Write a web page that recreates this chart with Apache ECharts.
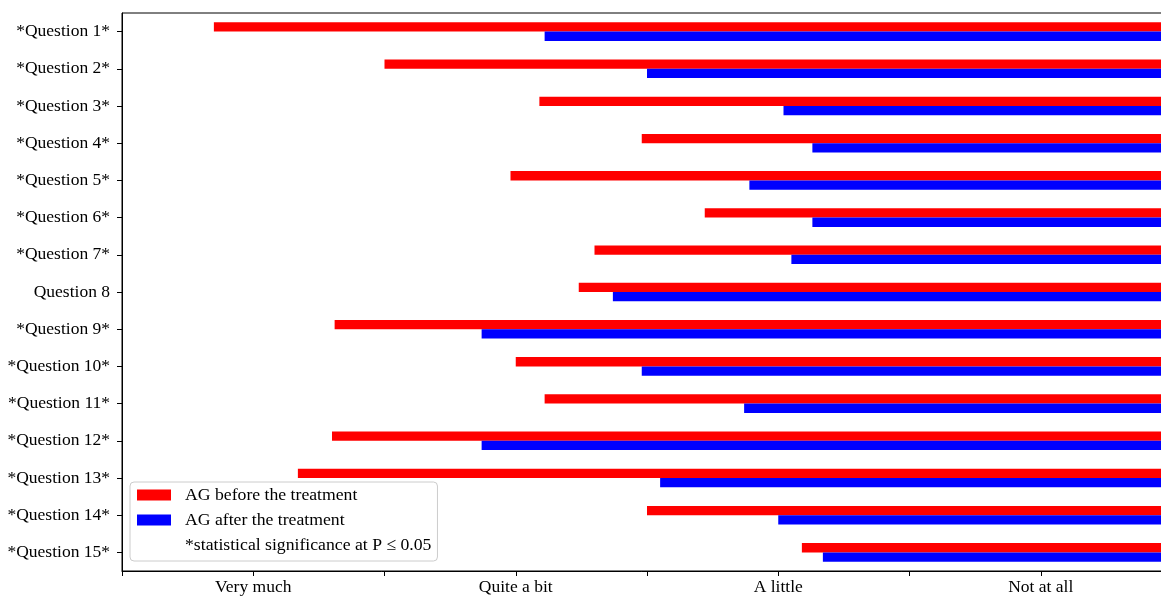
<!DOCTYPE html>
<html><head><meta charset="utf-8">
<script src="https://cdn.jsdelivr.net/npm/echarts@6/dist/echarts.min.js"></script>
<style>html,body{margin:0;padding:0;background:#fff}#c{width:1161px;height:596px}</style>
</head><body><div id="c"></div>
<script>
const categories = ['*Question 1*','*Question 2*','*Question 3*','*Question 4*','*Question 5*','*Question 6*','*Question 7*','Question 8','*Question 9*','*Question 10*','*Question 11*','*Question 12*','*Question 13*','*Question 14*','*Question 15*'];
const beforeValues = [0.85, 1.50, 2.09, 2.48, 1.98, 2.72, 2.30, 2.24, 1.31, 2.00, 2.11, 1.30, 1.17, 2.50, 3.09];
const afterValues  = [2.11, 2.50, 3.02, 3.13, 2.89, 3.13, 3.05, 2.37, 1.87, 2.48, 2.87, 1.87, 2.55, 3.00, 3.17];
const tickLabels = {1: 'Very much', 2: 'Quite a bit', 3: 'A little', 4: 'Not at all'};
const seriesNames = ['AG before the treatment', 'AG after the treatment'];
const noteText = '*statistical significance at P \u2264 0.05';
const axisMin = 0.5, axisMax = 4.5, axisStep = 0.5;

const FONT = 'Liberation Serif, Times New Roman, serif';
const fill = vals => vals.map(v => axisMax - v);
const common = {type: 'bar', barWidth: '25%', barGap: '0%', silent: true};

const chart = echarts.init(document.getElementById('c'));
chart.setOption({
  animation: false,
  backgroundColor: '#fff',
  grid: {left: 122, top: 13, width: 1050, height: 558, outerBoundsMode: 'none', containLabel: false,
         show: true, borderColor: '#000', borderWidth: 1},
  xAxis: {
    type: 'value', min: axisMin, max: axisMax, interval: axisStep,
    splitLine: {show: false},
    axisLine: {show: true, lineStyle: {color: '#000', width: 1}},
    axisTick: {show: true, length: 5, lineStyle: {color: '#000'}},
    axisLabel: {margin: 7, color: '#000', fontFamily: FONT, fontSize: 17.5,
      formatter: v => tickLabels[Math.round(v * 2) / 2] || '', showMinLabel: true, showMaxLabel: true}
  },
  yAxis: {
    type: 'category', data: categories, inverse: true,
    axisLine: {show: true, lineStyle: {color: '#000', width: 1}},
    axisTick: {show: true, alignWithLabel: true, length: 5, lineStyle: {color: '#000'}},
    axisLabel: {margin: 12, color: '#000', fontFamily: FONT, fontSize: 17.5, interval: 0}
  },
  legend: {
    orient: 'vertical', left: 130, top: 482,
    padding: [4, 6, 7, 7], itemGap: 7, itemWidth: 34, itemHeight: 11,
    backgroundColor: 'rgba(255,255,255,0.8)', borderColor: '#cccccc', borderWidth: 1, borderRadius: 4,
    selectedMode: false,
    textStyle: {fontFamily: FONT, fontSize: 17.7, color: '#000', lineHeight: 17, padding: [0, 0, 0, 9]},
    data: [
      {name: seriesNames[0], icon: 'rect'},
      {name: seriesNames[1], icon: 'rect'},
      {name: noteText, icon: 'rect', itemStyle: {color: 'rgba(0,0,0,0)', borderWidth: 0}}
    ]
  },
  series: [
    Object.assign({}, common, {name: 'baseBefore', stack: 'before', data: beforeValues, itemStyle: {color: 'rgba(0,0,0,0)'}}),
    Object.assign({}, common, {name: seriesNames[0], stack: 'before', data: fill(beforeValues), itemStyle: {color: '#ff0000'}}),
    Object.assign({}, common, {name: 'baseAfter', stack: 'after', data: afterValues, itemStyle: {color: 'rgba(0,0,0,0)'}}),
    Object.assign({}, common, {name: seriesNames[1], stack: 'after', data: fill(afterValues), itemStyle: {color: '#0000ff'}}),
    {type: 'scatter', name: noteText, data: [], itemStyle: {color: 'rgba(0,0,0,0)'}}
  ]
});
</script></body></html>
